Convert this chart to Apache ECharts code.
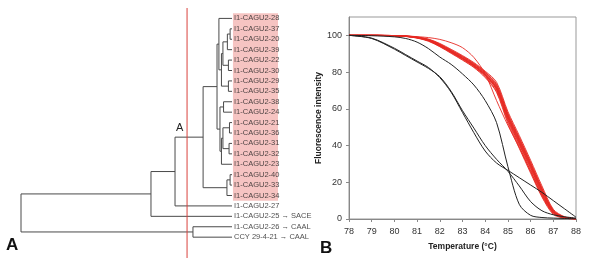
<!DOCTYPE html>
<html><head><meta charset="utf-8">
<script src="https://cdn.jsdelivr.net/npm/echarts@6/dist/echarts.min.js"></script>
<style>html,body{margin:0;padding:0;background:#fff}#c{width:600px;height:263px}</style>
</head><body><div id="c"></div>
<script>
// ---------- Panel A: dendrogram ----------
const leafLabels = ['I1-CAGU2-28','I1-CAGU2-37','I1-CAGU2-20','I1-CAGU2-39','I1-CAGU2-22','I1-CAGU2-30',
  'I1-CAGU2-29','I1-CAGU2-35','I1-CAGU2-38','I1-CAGU2-24','I1-CAGU2-21','I1-CAGU2-36','I1-CAGU2-31',
  'I1-CAGU2-32','I1-CAGU2-23','I1-CAGU2-40','I1-CAGU2-33','I1-CAGU2-34','I1-CAGU2-27',
  'I1-CAGU2-25 \u2192 SACE','I1-CAGU2-26 \u2192 CAAL','CCY 29-4-21 \u2192 CAAL'];
const highlightedCount = 18;
// internal nodes: children are leaf indices (numbers) or node names (strings)
const nodeNames    = ['A','B','C','D','E','F','X','G','H','I','J','K','L','N','O','P','Q','R','S','T','ROOT'];
const nodeChild1   = [1,  'A',4,  'B',6,  'D',0,  8,  10, 12, 'H','J','G','X',15, 'O','N','Q','R',20, 'S'];
const nodeChild2   = [2,  3,  5,  'C',7,  'E','F',9,  11, 13, 'I',14, 'K','L',16, 17, 'P',18, 19, 21, 'T'];
const nodeHeights  = [0.9,2.2,1.7,4.3,1.7,5.0,6.2,4.0,1.2,1.4,4.3,5.0,5.7,7.1,0.9,2.4,13.7,27.0,38.4,18.5,100];
const cutHeight = 21.3;

// ---------- Panel B: melting curves ----------
const temps = [78,79,80,80.5,81,81.5,82,82.5,83,83.5,84,84.5,85,85.5,86,86.5,87,87.5,88];
const red01 = [100,100,99.7,99.4,98.5,96.8,93.8,90.2,86.5,82.5,77,69,52,38.5,25,12,2.5,0.5,0.1];
const red02 = [100,100,99.8,99.4,98.6,97,94,90.5,86.8,82.8,77.5,69.5,53,39.5,26,12.5,3,0.5,0.1];
const red03 = [100,100,99.8,99.5,98.7,97.1,94.2,90.8,87.2,83.2,78,70.5,54,40.5,27,13.5,3.3,0.6,0.1];
const red04 = [100,100,99.8,99.5,98.8,97.3,94.5,91,87.5,83.5,78.5,71,55,41.5,28,14.5,3.6,0.7,0.2];
const red05 = [100,100,99.8,99.5,98.8,97.4,94.7,91.3,87.8,84,79,71.5,55.5,42.5,29,15,4,0.8,0.2];
const red06 = [100,100,99.9,99.6,98.9,97.6,95,91.6,88.2,84.3,79.5,72.5,56.5,43.5,30,16,4.3,0.9,0.2];
const red07 = [100,100,99.9,99.6,99,97.8,95.3,92,88.6,84.8,80,73.5,57.5,44.5,31,17,4.8,1,0.2];
const red08 = [100,100,99.9,99.7,99.1,98,95.6,92.4,89,85.2,80.5,74.5,58.5,45.5,32,18,5.3,1.2,0.2];
const red09 = [100,100,99.9,99.6,98.9,97.5,94.8,91.2,87.6,83.6,78.4,70.5,54,41,28,14,3.5,0.6,0.1];
const red10 = [100,100,99.8,99.5,98.7,97.2,94.3,90.9,87.3,83.3,78.2,71.5,55.5,42,29,15.5,4.2,0.8,0.2];
const red11 = [100,100,99.9,99.6,99,97.7,95.1,91.8,88.4,84.5,79.8,73,57,44,30.5,16.5,4.5,0.8,0.2];
const red12 = [100,100,99.8,99.5,98.8,97.3,94.6,91.1,87.6,83.8,79,72,56,43,29.5,16,4.4,0.9,0.2];
const red13 = [100,100,99.9,99.7,99.3,98.8,97.8,96,93.3,88,79,64.5,51,39,26,13,3.5,0.6,0.1];
const black01 = [100,99.8,99.2,98.3,96.3,92.8,88.2,84.2,79,73,64.5,52.5,28.5,8,2,0.8,0.5,0.3,0.2];
const black02 = [100,98.5,93,89.5,86,82.5,77,69,58,47,37,30.5,26.5,22.5,18.5,14.5,10,5.5,1];
const black03 = [100,98.3,92.5,89,85.5,82,77.5,69.5,59,49.5,40,32.5,26,18,9.5,4.5,2.3,1.2,0.5];
const yTicks = [0,20,40,60,80,100];
const xTicks = [78,79,80,81,82,83,84,85,86,87,88];

const redCurves = [red01,red02,red03,red04,red05,red06,red07,red08,red09,red10,red11,red12,red13];
const blackCurves = [black01,black02,black03];

// ---- dendrogram layout from the tree ----
const pos = {};
for (let i = 0; i < leafLabels.length; i++) pos[i] = [0, i];
const segs = [];
nodeNames.forEach((n, k) => {
  const a = pos[nodeChild1[k]], b = pos[nodeChild2[k]], h = nodeHeights[k];
  segs.push([[a[0], a[1]], [h, a[1]], [h, b[1]], [b[0], b[1]]]);
  pos[n] = [h, (a[1] + b[1]) / 2];
});

const chart = echarts.init(document.getElementById('c'), null, {renderer: 'canvas'});
const FONT = 'Liberation Sans, Arial, sans-serif';
const series = [];
// dendrogram
series.push({
  type: 'custom', xAxisIndex: 0, yAxisIndex: 0, silent: true,
  data: segs.map((s, i) => [i]),
  renderItem: function (params, api) {
    const s = segs[params.dataIndex];
    return {type: 'polyline', shape: {points: s.map(p => api.coord(p))},
      style: {stroke: '#4a4a4a', lineWidth: 1, fill: null}};
  },
  z: 3
});
// cut-off line
series.push({
  type: 'line', xAxisIndex: 0, yAxisIndex: 0, showSymbol: false, silent: true,
  data: [[cutHeight, -1], [cutHeight, 23]],
  lineStyle: {color: '#d9423c', width: 1}, z: 4
});
// leaf labels + highlight band
series.push({
  type: 'scatter', xAxisIndex: 0, yAxisIndex: 0, symbolSize: 0, silent: true,
  data: leafLabels.map((l, i) => [0, i]),
  label: {show: true, position: 'right', distance: 2, color: '#222', fontSize: 7.5, fontFamily: FONT,
    formatter: p => leafLabels[p.dataIndex]},
  markArea: {silent: true, itemStyle: {color: '#f6c4c2'},
    data: [[{xAxis: -0.45, yAxis: -0.5}, {xAxis: -21.8, yAxis: highlightedCount - 0.5}]]},
  z: 2
});
redCurves.forEach(c => series.push({
  type: 'line', xAxisIndex: 1, yAxisIndex: 1, showSymbol: false, smooth: 0.3, silent: true,
  data: temps.map((t, i) => [t, c[i]]), lineStyle: {color: '#e62a24', width: 0.9}, z: 2
}));
blackCurves.forEach(c => series.push({
  type: 'line', xAxisIndex: 1, yAxisIndex: 1, showSymbol: false, smooth: 0.3, silent: true,
  data: temps.map((t, i) => [t, c[i]]), lineStyle: {color: '#222', width: 1}, z: 3
}));

chart.setOption({
  animation: false,
  grid: [
    {left: 21, right: 322, top: 8, bottom: 5},
    {left: 349, right: 24, top: 17, bottom: 44, show: true, borderColor: '#999', borderWidth: 1}
  ],
  xAxis: [
    {gridIndex: 0, type: 'value', inverse: true, min: -21.8, max: 100, show: false},
    {gridIndex: 1, type: 'value', min: xTicks[0], max: xTicks[xTicks.length - 1], interval: 1,
      axisLine: {lineStyle: {color: '#888'}}, axisTick: {length: 3, lineStyle: {color: '#888'}},
      splitLine: {show: false},
      axisLabel: {color: '#333', fontSize: 9, fontFamily: FONT, margin: 8},
      name: 'Temperature (\u00b0C)', nameLocation: 'middle', nameGap: 23,
      nameTextStyle: {fontWeight: 'bold', fontSize: 8.5, color: '#222', fontFamily: FONT}}
  ],
  yAxis: [
    {gridIndex: 0, type: 'value', inverse: true, min: -1, max: 23, show: false},
    {gridIndex: 1, type: 'value', min: 0, max: 110, interval: 20,
      axisLine: {show: true, lineStyle: {color: '#888'}}, axisTick: {show: true, length: 3, lineStyle: {color: '#888'}},
      splitLine: {show: false},
      axisLabel: {color: '#333', fontSize: 9, fontFamily: FONT, margin: 7, showMaxLabel: false,
        formatter: v => yTicks.indexOf(v) >= 0 ? String(v) : ''},
      name: 'Fluorescence intensity', nameLocation: 'middle', nameGap: 26, nameRotate: 90,
      nameTextStyle: {fontWeight: 'bold', fontSize: 8.5, color: '#222', fontFamily: FONT}}
  ],
  graphic: [
    {type: 'text', left: 176, top: 122, style: {text: 'A', fontSize: 11, fill: '#222', fontFamily: FONT}},
    {type: 'text', left: 6, top: 237, style: {text: 'A', fontSize: 17, fontWeight: 'bold', fill: '#111', fontFamily: FONT}},
    {type: 'text', left: 320, top: 240, style: {text: 'B', fontSize: 17, fontWeight: 'bold', fill: '#111', fontFamily: FONT}}
  ],
  series: series
});
</script></body></html>
